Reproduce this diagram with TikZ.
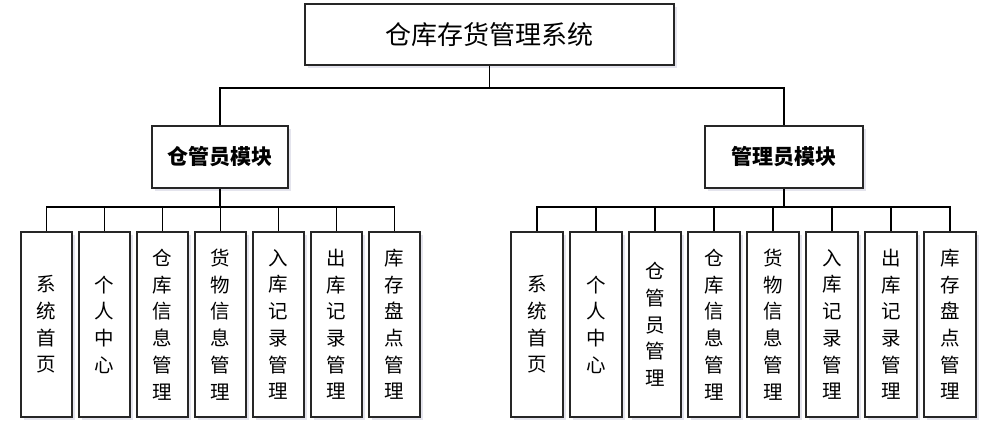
\documentclass[tikz,border=0pt]{standalone}
\usepackage{fontspec}
\newfontfamily\cjk{Noto Sans CJK SC}
\usetikzlibrary{shadows}

\tikzset{
  box/.style={draw=black!85, line width=1.7pt, fill=white, inner sep=0pt,
    drop shadow={shadow xshift=2.5pt, shadow yshift=-2.5pt, fill=blue!20!gray!35, opacity=0.5}},
  titlebox/.style={box, minimum width=369pt, minimum height=61pt, font=\cjk\fontsize{26}{30}\selectfont},
  modbox/.style={box, minimum height=62pt, font=\cjk\bfseries\fontsize{21}{24}\selectfont},
  leafbox/.style={box, minimum height=185pt, align=center, font=\cjk\fontsize{19.5}{26.7}\selectfont},
  link/.style={line width=1.7pt, draw=black}
}

\begin{document}
\begin{tikzpicture}[x=1pt, y=1pt]
			%%%%% FRAME %%%%%
			\useasboundingbox (0, 0) rectangle (1008, -440);
			
			%%%%% TOP %%%%%
			\node[titlebox] (sys) at (489.5, -34.5) {仓库存货管理系统};
			\node[modbox, minimum width=136pt] (keeper) at (220, -157) {仓管员模块};
			\node[modbox, minimum width=158pt] (admin) at (784, -157) {管理员模块};
			
			\coordinate (topbus) at (489.5, -88);
			\draw[link] (sys.south) -- (topbus);
			\draw[link] (keeper.north) |- (topbus) -| (admin.north);
			
			%%%%% KEEPER %%%%%
			\node[leafbox, minimum width=51pt] (k1) at (46.5, -324.5) {系\\统\\首\\页};
			\node[leafbox, minimum width=51pt] (k2) at (104.5, -324.5) {个\\人\\中\\心};
			\node[leafbox, minimum width=51pt] (k3) at (162.5, -324.5) {仓\\库\\信\\息\\管\\理};
			\node[leafbox, minimum width=51pt] (k4) at (220.5, -324.5) {货\\物\\信\\息\\管\\理};
			\node[leafbox, minimum width=51pt] (k5) at (278.5, -324.5) {入\\库\\记\\录\\管\\理};
			\node[leafbox, minimum width=51pt] (k6) at (336.5, -324.5) {出\\库\\记\\录\\管\\理};
			\node[leafbox, minimum width=51pt] (k7) at (394.5, -324.5) {库\\存\\盘\\点\\管\\理};
			
			\coordinate (kbus) at (220, -207);
			\draw[link] (keeper.south) -- (kbus);
			\draw[link] (kbus) -| (k1.north);
			\draw[link] (kbus) -| (k2.north);
			\draw[link] (kbus) -| (k3.north);
			\draw[link] (kbus) -| (k4.north);
			\draw[link] (kbus) -| (k5.north);
			\draw[link] (kbus) -| (k6.north);
			\draw[link] (kbus) -| (k7.north);
			
			%%%%% ADMIN %%%%%
			\node[leafbox, minimum width=52pt] (a1) at (537, -324.5) {系\\统\\首\\页};
			\node[leafbox, minimum width=52pt] (a2) at (596, -324.5) {个\\人\\中\\心};
			\node[leafbox, minimum width=52pt] (a3) at (655, -324.5) {仓\\管\\员\\管\\理};
			\node[leafbox, minimum width=52pt] (a4) at (714, -324.5) {仓\\库\\信\\息\\管\\理};
			\node[leafbox, minimum width=52pt] (a5) at (773, -324.5) {货\\物\\信\\息\\管\\理};
			\node[leafbox, minimum width=52pt] (a6) at (832, -324.5) {入\\库\\记\\录\\管\\理};
			\node[leafbox, minimum width=52pt] (a7) at (891, -324.5) {出\\库\\记\\录\\管\\理};
			\node[leafbox, minimum width=52pt] (a8) at (950, -324.5) {库\\存\\盘\\点\\管\\理};
			
			\coordinate (abus) at (784, -207);
			\draw[link] (admin.south) -- (abus);
			\draw[link] (abus) -| (a1.north);
			\draw[link] (abus) -| (a2.north);
			\draw[link] (abus) -| (a3.north);
			\draw[link] (abus) -| (a4.north);
			\draw[link] (abus) -| (a5.north);
			\draw[link] (abus) -| (a6.north);
			\draw[link] (abus) -| (a7.north);
			\draw[link] (abus) -| (a8.north);
			
			%%%%% END %%%%%
\end{tikzpicture}
\end{document}
